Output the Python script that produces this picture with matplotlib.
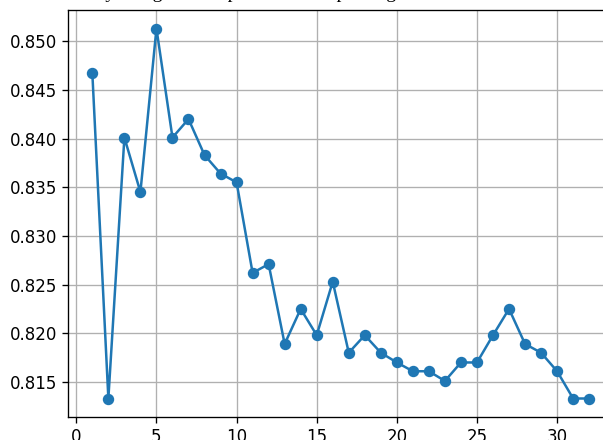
import matplotlib
matplotlib.use("Agg")
import matplotlib.pyplot as plt

# values
steps = list(range(1, 33))
scores = [0.8467, 0.8133, 0.8401, 0.8345, 0.8513, 0.8401, 0.8420, 0.8383,
          0.8364, 0.8355, 0.8262, 0.8271, 0.8189, 0.8225, 0.8198, 0.8253,
          0.8180, 0.8198, 0.8180, 0.8170, 0.8161, 0.8161, 0.8151, 0.8170,
          0.8170, 0.8198, 0.8225, 0.8189, 0.8180, 0.8161, 0.8133, 0.8133]
title_text = "Results by using the sample and mean pooling"

S = 1.2  # reference looks rendered at ~120 dpi

fig = plt.figure(figsize=(6.03, 4.40), dpi=100)
ax = fig.add_axes([67.5 / 603, 1 - 417 / 440, (614 - 67.5) / 603, (417 - 10) / 440])

ax.plot(steps, scores, marker="o", color="#1f77b4", lw=1.5 * S, ms=6 * S)
ax.grid(True, color="#b0b0b0", lw=0.8 * S)
ax.set_axisbelow(True)

ax.set_xticks([0, 5, 10, 15, 20, 25, 30])
ax.set_yticks([0.815, 0.820, 0.825, 0.830, 0.835, 0.840, 0.845, 0.850])
ax.yaxis.set_major_formatter(matplotlib.ticker.FormatStrFormatter("%.3f"))
ax.tick_params(labelsize=10 * S, length=3.5 * S, width=0.8 * S)
for sp in ax.spines.values():
    sp.set_linewidth(0.8 * S)

# title from the page above, mostly cut off by the crop
fig.text(33 / 603, 1 + 2.5 / 440, title_text, family="Liberation Serif",
         fontsize=14, va="baseline", ha="left")

fig.savefig("out.png", dpi=100)
